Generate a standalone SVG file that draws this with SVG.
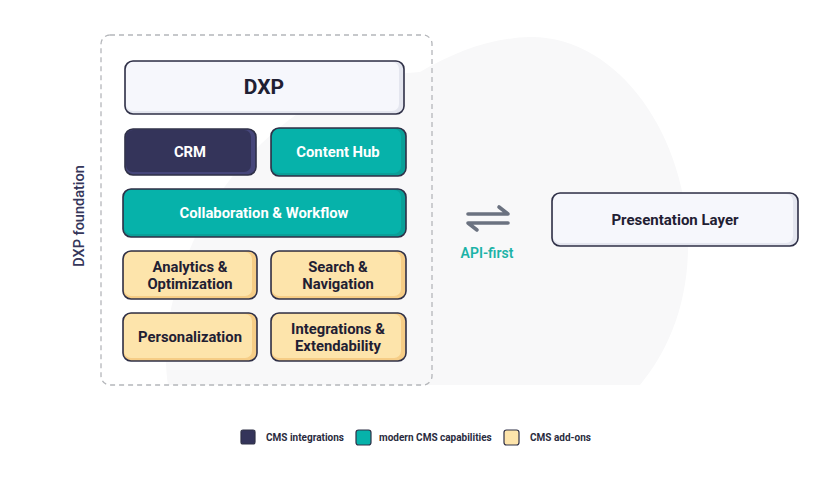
<svg xmlns="http://www.w3.org/2000/svg" width="840" height="488" viewBox="0 0 840 488">
<style>
.t{font-family:Roboto,"Liberation Sans",Arial,sans-serif;font-weight:700;text-anchor:middle}
.dark{fill:#1f2033}
.w{fill:#ffffff}
.ol{fill:none;stroke:#2f3047;stroke-width:1.6}
.leg{font-family:Roboto,"Liberation Sans",Arial,sans-serif;font-weight:700;font-size:10px;fill:#2a2b40}
</style>
<rect width="840" height="488" fill="#ffffff"/>
<path id="blob" d="M168 385 C150 270 250 80 420 72 C455 52 490 38 530 37 C620 36 690 140 688 250 C687 310 665 355 640 385 Z" fill="#f8f8f9"/>
<g id="foundation">
<rect x="101" y="35" width="331" height="350" rx="9" fill="none" stroke="#b4b6ba" stroke-width="1.3" stroke-dasharray="5 4"/>
<text x="79" y="216" transform="rotate(-90 79 216)" text-anchor="middle" font-family="Roboto,'Liberation Sans',Arial,sans-serif" font-size="14.5" font-weight="500" fill="#35365a" dy="5">DXP foundation</text>
</g>
<g id="dxp">
<rect x="125" y="61" width="279" height="53" rx="8" fill="#e4e6ef"/>
<rect x="126" y="62" width="273" height="49" rx="7" fill="#f6f7fc"/>
<rect x="125" y="61" width="279" height="53" rx="8" class="ol"/>
<text x="264" y="94" class="t dark" font-size="21">DXP</text>
</g>
<g id="crm">
<rect x="125" y="129" width="131" height="46" rx="8" fill="#46467a"/>
<rect x="126" y="130" width="125" height="42" rx="7" fill="#34345a"/>
<rect x="125" y="129" width="131" height="46" rx="8" class="ol"/>
<text x="190" y="157" class="t w" font-size="14.8">CRM</text>
</g>
<g id="contenthub">
<rect x="271" y="128" width="135" height="48" rx="8" fill="#0a9f98"/>
<rect x="272" y="129" width="129" height="44" rx="7" fill="#06b2aa"/>
<rect x="271" y="128" width="135" height="48" rx="8" class="ol"/>
<text x="338" y="157" class="t w" font-size="14.8">Content Hub</text>
</g>
<g id="collab">
<rect x="123" y="189" width="283" height="48" rx="8" fill="#0a9f98"/>
<rect x="124" y="190" width="277" height="44" rx="7" fill="#06b2aa"/>
<rect x="123" y="189" width="283" height="48" rx="8" class="ol"/>
<text x="264" y="218" class="t w" font-size="14.8">Collaboration &amp; Workflow</text>
</g>
<g id="analytics">
<rect x="123" y="251" width="134" height="48" rx="8" fill="#f6cd86"/>
<rect x="124" y="252" width="128" height="44" rx="7" fill="#fde4ab"/>
<rect x="123" y="251" width="134" height="48" rx="8" class="ol"/>
<text x="190" y="272" class="t dark" font-size="14.8">Analytics &amp;</text>
<text x="190" y="289" class="t dark" font-size="14.8">Optimization</text>
</g>
<g id="search">
<rect x="271" y="251" width="135" height="48" rx="8" fill="#f6cd86"/>
<rect x="272" y="252" width="129" height="44" rx="7" fill="#fde4ab"/>
<rect x="271" y="251" width="135" height="48" rx="8" class="ol"/>
<text x="338" y="272" class="t dark" font-size="14.8">Search &amp;</text>
<text x="338" y="289" class="t dark" font-size="14.8">Navigation</text>
</g>
<g id="personalization">
<rect x="123" y="313" width="134" height="48" rx="8" fill="#f6cd86"/>
<rect x="124" y="314" width="128" height="44" rx="7" fill="#fde4ab"/>
<rect x="123" y="313" width="134" height="48" rx="8" class="ol"/>
<text x="190" y="342" class="t dark" font-size="14.8">Personalization</text>
</g>
<g id="integrations">
<rect x="271" y="313" width="135" height="48" rx="8" fill="#f6cd86"/>
<rect x="272" y="314" width="129" height="44" rx="7" fill="#fde4ab"/>
<rect x="271" y="313" width="135" height="48" rx="8" class="ol"/>
<text x="338" y="334" class="t dark" font-size="14.8">Integrations &amp;</text>
<text x="338" y="351" class="t dark" font-size="14.8">Extendability</text>
</g>
<g id="presentation">
<rect x="552" y="193" width="246" height="53" rx="8" fill="#e4e6ef"/>
<rect x="553" y="194" width="240" height="49" rx="7" fill="#f6f7fc"/>
<rect x="552" y="193" width="246" height="53" rx="8" class="ol"/>
<text x="675" y="225" class="t dark" font-size="15">Presentation Layer</text>
</g>
<g id="connectors" fill="none" stroke="#6b7280" stroke-width="3.6" stroke-linecap="round" stroke-linejoin="round">
<path d="M468 214 H508 L499 207"/>
<path d="M508 223 H468 L477 230"/>
</g>
<text x="487" y="258" class="t" font-size="14" fill="#1cb3a7" style="font-weight:600">API-first</text>
<g id="legend">
<rect x="241" y="430" width="14" height="14" rx="2" fill="#34345a" stroke="#2f3047" stroke-width="1.2"/>
<text x="266" y="441" class="leg">CMS integrations</text>
<rect x="356" y="430" width="15" height="15" rx="2.5" fill="#06b2aa" stroke="#2f3047" stroke-width="1.2"/>
<text x="379" y="441" class="leg">modern CMS capabilities</text>
<rect x="504" y="430" width="15" height="15" rx="2.5" fill="#fde4ab" stroke="#2f3047" stroke-width="1.2"/>
<text x="530" y="441" class="leg">CMS add-ons</text>
</g>
</svg>
